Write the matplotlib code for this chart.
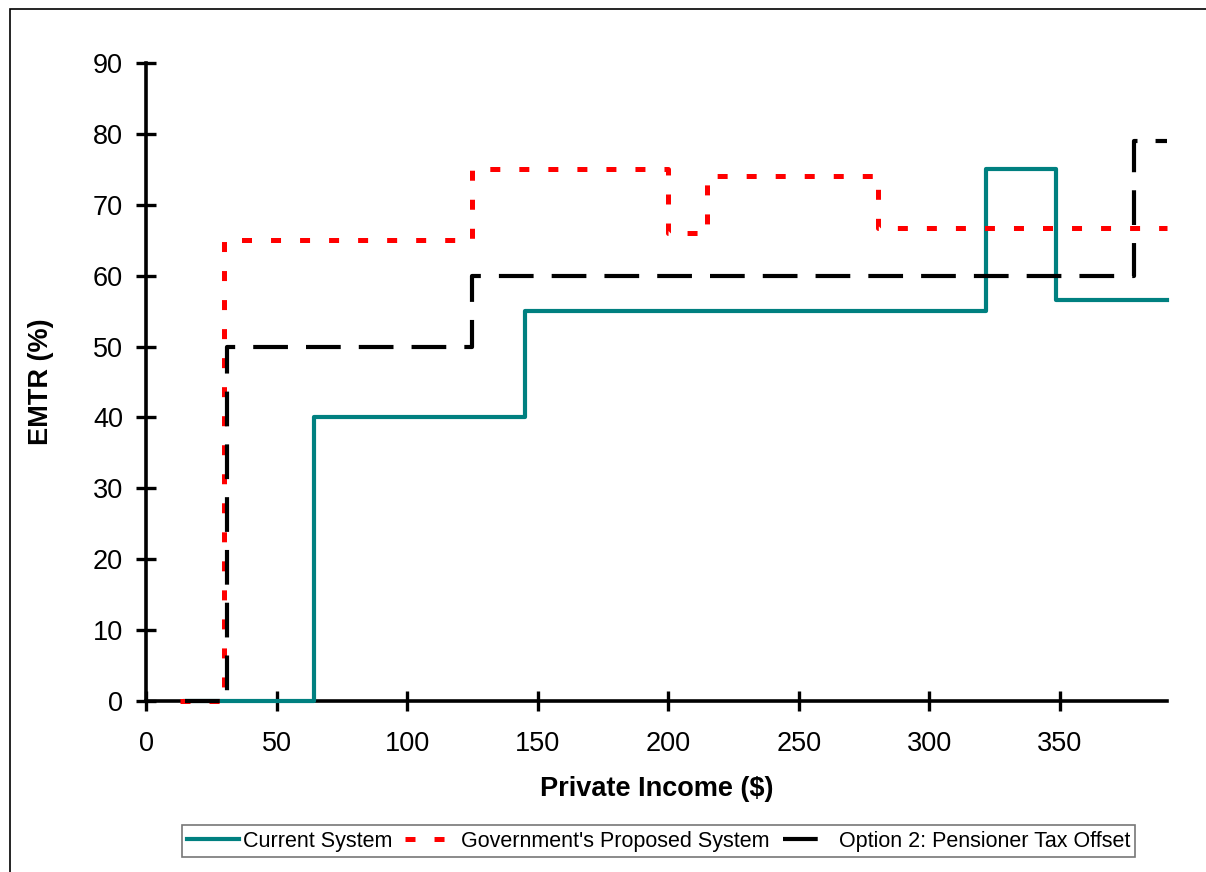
import matplotlib
matplotlib.use('Agg')
import matplotlib.pyplot as plt
from matplotlib.patches import Rectangle

# step data (income in $, EMTR in %)
current_x = [15, 64.5, 145, 321.5, 348.5, 391]
current_y = [0, 40, 55, 75, 56.5, 56.5]
proposed_x = [13, 30, 125, 200, 215, 280.5, 391]
proposed_y = [0, 65, 75, 66, 74, 66.7, 66.7]
option2_x = [15, 31, 125, 378.5, 391]
option2_y = [0, 50, 60, 79, 79]

x_ticks = [0, 50, 100, 150, 200, 250, 300, 350]
y_ticks = [0, 10, 20, 30, 40, 50, 60, 70, 80, 90]

plt.rcParams['font.family'] = ['Liberation Sans', 'DejaVu Sans']
plt.rcParams['lines.scale_dashes'] = False

fig = plt.figure(figsize=(12.06, 8.72), dpi=100)
# outer chart border (only top and left edges fall inside the image)
fig.patches.append(Rectangle((10 / 1206, -0.1), 1.2, 1.1 - 9 / 872,
                             transform=fig.transFigure, fill=False,
                             edgecolor='black', linewidth=1.2))

ax = fig.add_axes([146 / 1206, 1 - 701 / 872, (1167 - 146) / 1206, (701 - 63) / 872])

ax.plot(current_x, current_y, drawstyle='steps-post', color='#008080', lw=3,
        label='Current System', zorder=3, clip_on=False)
ax.plot(proposed_x, proposed_y, drawstyle='steps-post', color='#ff0000', lw=3.6,
        dashes=(7.2, 13.7), dash_capstyle='butt', label="Government's Proposed System",
        zorder=4, clip_on=False)
ax.plot(option2_x, option2_y, drawstyle='steps-post', color='black', lw=3,
        dashes=(25, 13), dash_capstyle='butt', label='Option 2: Pensioner Tax Offset',
        zorder=5, clip_on=False)

ax.set_xlim(0, 391)
ax.set_ylim(0, 90)
ax.set_xticks(x_ticks)
ax.set_yticks(y_ticks)
ax.spines['top'].set_visible(False)
ax.spines['right'].set_visible(False)
ax.spines['left'].set_linewidth(2.6)
ax.spines['bottom'].set_linewidth(2.6)
ax.tick_params(direction='inout', length=15, width=2.4, labelsize=19.5)
ax.tick_params(axis='x', pad=14)
ax.tick_params(axis='y', pad=9)
ax.set_xlabel('Private Income ($)', fontsize=19.5, fontweight='bold', labelpad=14)
ax.set_ylabel('EMTR (%)', fontsize=19.5, fontweight='bold', labelpad=28)

leg = ax.legend(loc='center', bbox_to_anchor=(658.5 / 1206, 1 - 841 / 872),
                bbox_transform=fig.transFigure, ncol=3, fontsize=15.5,
                frameon=True, fancybox=False, handlelength=2.4, handletextpad=0.2,
                columnspacing=0.6, borderpad=0.25, borderaxespad=0)
leg.get_frame().set_edgecolor('#555555')
leg.get_frame().set_linewidth(1.2)

fig.savefig('out.png', dpi=100)
